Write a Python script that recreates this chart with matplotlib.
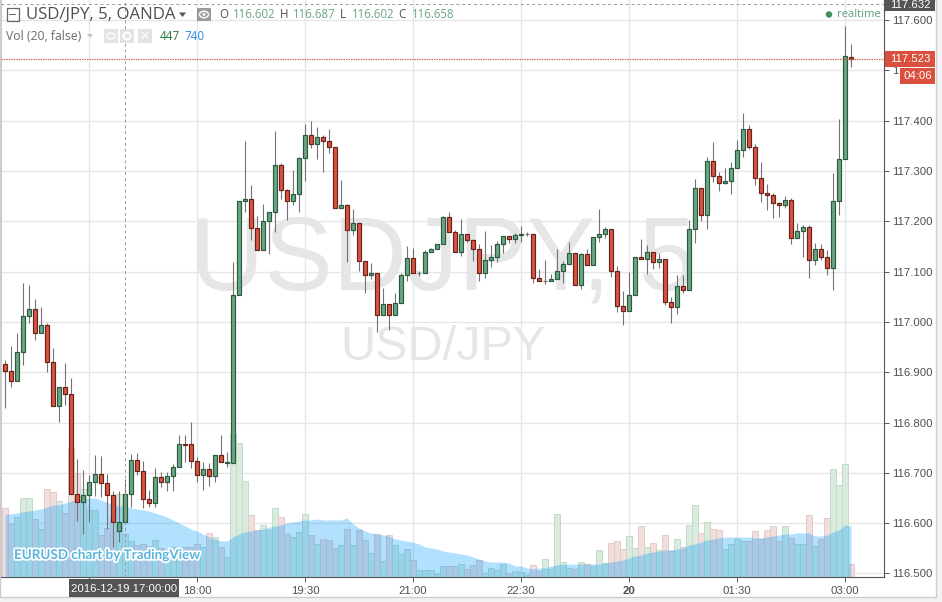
import matplotlib
matplotlib.use('Agg')
import matplotlib.pyplot as plt
import matplotlib.patheffects as pe
from matplotlib.patches import Rectangle, Polygon, Ellipse
import numpy as np

opens = [116.916, 116.902, 116.883, 116.940, 117.012, 117.026, 116.978, 116.994, 116.920, 116.833,
         116.871, 116.857, 116.658, 116.642, 116.656, 116.682, 116.698, 116.680, 116.656, 116.584,
         116.602, 116.658, 116.726, 116.704, 116.648, 116.640, 116.692, 116.682, 116.694, 116.712,
         116.757, 116.757, 116.724, 116.696, 116.708, 116.694, 116.735, 116.720, 116.720, 117.054,
         117.240, 117.244, 117.187, 117.143, 117.201, 117.219, 117.312, 117.262, 117.240, 117.254,
         117.326, 117.372, 117.354, 117.368, 117.360, 117.348, 117.226, 117.232, 117.183, 117.197,
         117.121, 117.093, 117.097, 117.014, 117.036, 117.014, 117.038, 117.093, 117.127, 117.097,
         117.097, 117.139, 117.145, 117.155, 117.209, 117.179, 117.139, 117.175, 117.163, 117.145,
         117.097, 117.123, 117.129, 117.155, 117.171, 117.165, 117.173, 117.175, 117.175, 117.087,
         117.081, 117.081, 117.085, 117.101, 117.115, 117.137, 117.073, 117.135, 117.113, 117.169,
         117.175, 117.185, 117.101, 117.032, 117.022, 117.054, 117.129, 117.125, 117.139, 117.119,
         117.125, 117.040, 117.030, 117.071, 117.063, 117.185, 117.266, 117.213, 117.320, 117.290,
         117.276, 117.280, 117.306, 117.342, 117.384, 117.348, 117.286, 117.256, 117.252, 117.236,
         117.232, 117.242, 117.167, 117.181, 117.189, 117.123, 117.145, 117.129, 117.107, 117.240,
         117.324, 117.527]
highs = [116.924, 116.952, 116.978, 117.077, 117.073, 117.046, 117.030, 116.998, 116.948, 116.871,
         116.918, 116.889, 116.727, 116.706, 116.696, 116.735, 116.733, 116.698, 116.664, 116.664,
         116.687, 116.737, 116.739, 116.724, 116.666, 116.710, 116.702, 116.702, 116.718, 116.775,
         116.775, 116.801, 116.731, 116.722, 116.720, 116.735, 116.775, 116.741, 117.119, 117.240,
         117.360, 117.272, 117.211, 117.234, 117.219, 117.380, 117.316, 117.264, 117.302, 117.328,
         117.393, 117.399, 117.388, 117.372, 117.384, 117.348, 117.282, 117.234, 117.224, 117.197,
         117.121, 117.117, 117.097, 117.067, 117.036, 117.058, 117.097, 117.151, 117.147, 117.101,
         117.143, 117.147, 117.155, 117.211, 117.219, 117.183, 117.205, 117.175, 117.165, 117.155,
         117.181, 117.153, 117.161, 117.171, 117.171, 117.177, 117.191, 117.179, 117.175, 117.105,
         117.123, 117.095, 117.145, 117.121, 117.159, 117.137, 117.137, 117.145, 117.169, 117.224,
         117.189, 117.185, 117.111, 117.061, 117.099, 117.129, 117.165, 117.153, 117.139, 117.137,
         117.125, 117.050, 117.093, 117.093, 117.203, 117.284, 117.266, 117.328, 117.358, 117.298,
         117.306, 117.318, 117.362, 117.415, 117.391, 117.354, 117.318, 117.274, 117.256, 117.238,
         117.250, 117.246, 117.197, 117.193, 117.193, 117.157, 117.155, 117.143, 117.296, 117.403,
         117.588, 117.553]
lows = [116.829, 116.871, 116.883, 116.914, 116.998, 116.964, 116.978, 116.900, 116.833, 116.801,
        116.835, 116.658, 116.604, 116.578, 116.602, 116.654, 116.652, 116.588, 116.553, 116.562,
        116.602, 116.632, 116.696, 116.630, 116.632, 116.632, 116.672, 116.664, 116.664, 116.712,
        116.722, 116.710, 116.682, 116.666, 116.674, 116.682, 116.722, 116.712, 116.720, 117.054,
        117.219, 117.163, 117.143, 117.143, 117.135, 117.179, 117.244, 117.203, 117.232, 117.219,
        117.280, 117.346, 117.324, 117.298, 117.336, 117.226, 117.226, 117.119, 117.173, 117.101,
        117.058, 117.085, 116.980, 117.014, 116.984, 117.014, 117.038, 117.081, 117.097, 117.091,
        117.097, 117.139, 117.145, 117.155, 117.179, 117.139, 117.131, 117.159, 117.121, 117.081,
        117.087, 117.109, 117.119, 117.137, 117.157, 117.157, 117.159, 117.171, 117.077, 117.081,
        117.075, 117.081, 117.085, 117.077, 117.115, 117.073, 117.065, 117.113, 117.113, 117.159,
        117.167, 117.089, 117.020, 116.994, 117.022, 117.054, 117.125, 117.095, 117.105, 117.107,
        117.034, 116.998, 117.016, 117.058, 117.063, 117.157, 117.201, 117.185, 117.278, 117.260,
        117.274, 117.254, 117.306, 117.328, 117.344, 117.272, 117.238, 117.223, 117.207, 117.209,
        117.226, 117.155, 117.167, 117.129, 117.087, 117.113, 117.123, 117.093, 117.063, 117.213,
        117.324, 117.507]
closes = [116.902, 116.883, 116.940, 117.012, 117.026, 116.978, 116.994, 116.920, 116.833, 116.871,
          116.857, 116.658, 116.642, 116.656, 116.682, 116.698, 116.680, 116.656, 116.602, 116.602,
          116.658, 116.726, 116.704, 116.648, 116.640, 116.692, 116.682, 116.694, 116.712, 116.757,
          116.755, 116.724, 116.696, 116.708, 116.694, 116.735, 116.722, 116.722, 117.054, 117.240,
          117.244, 117.187, 117.143, 117.201, 117.219, 117.312, 117.262, 117.240, 117.254, 117.326,
          117.372, 117.354, 117.368, 117.360, 117.348, 117.226, 117.232, 117.183, 117.197, 117.121,
          117.093, 117.097, 117.014, 117.036, 117.014, 117.038, 117.093, 117.127, 117.097, 117.097,
          117.139, 117.145, 117.155, 117.209, 117.179, 117.139, 117.175, 117.163, 117.145, 117.097,
          117.123, 117.129, 117.155, 117.171, 117.165, 117.173, 117.175, 117.175, 117.087, 117.081,
          117.081, 117.085, 117.101, 117.115, 117.137, 117.073, 117.135, 117.113, 117.169, 117.175,
          117.185, 117.101, 117.032, 117.022, 117.054, 117.129, 117.125, 117.139, 117.119, 117.125,
          117.040, 117.030, 117.071, 117.063, 117.185, 117.266, 117.213, 117.320, 117.290, 117.276,
          117.280, 117.306, 117.342, 117.384, 117.348, 117.286, 117.256, 117.252, 117.236, 117.232,
          117.242, 117.167, 117.181, 117.189, 117.123, 117.145, 117.129, 117.107, 117.240, 117.324,
          117.529, 117.523]
volumes = [718, 551, 624, 822, 822, 603, 499, 915, 884, 790,
           666, 1342, 1082, 915, 697, 697, 437, 510, 624, 863,
           447, 374, 333, 343, 322, 385, 302, 281, 312, 312,
           312, 312, 343, 312, 458, 416, 312, 208, 1487, 1394,
           998, 645, 489, 541, 489, 718, 624, 447, 416, 468,
           655, 437, 343, 395, 385, 302, 333, 499, 333, 489,
           385, 250, 447, 166, 437, 333, 239, 291, 177, 73,
           73, 73, 31, 114, 114, 114, 135, 83, 125, 177,
           42, 94, 73, 135, 31, 62, 52, 21, 125, 62,
           187, 83, 655, 156, 94, 83, 156, 135, 114, 281,
           146, 354, 374, 291, 426, 302, 530, 312, 354, 281,
           437, 270, 395, 312, 541, 749, 458, 572, 499, 489,
           291, 343, 395, 374, 374, 478, 395, 489, 530, 374,
           530, 406, 343, 343, 645, 322, 395, 614, 1123, 957,
           1175, 135]
vol_ma = [655, 655, 666, 676, 686, 697, 707, 728, 749, 749,
          770, 790, 811, 811, 822, 822, 801, 780, 749, 738,
          740, 718, 707, 697, 686, 666, 645, 624, 593, 562,
          530, 499, 478, 447, 416, 395, 374, 374, 416, 447,
          468, 478, 489, 499, 520, 530, 541, 562, 572, 582,
          593, 593, 603, 593, 593, 593, 593, 614, 551, 510,
          478, 458, 447, 437, 426, 395, 385, 374, 364, 343,
          312, 302, 291, 270, 260, 250, 239, 229, 208, 187,
          166, 156, 156, 156, 146, 114, 114, 94, 83, 94,
          94, 114, 125, 135, 135, 135, 135, 135, 135, 135,
          146, 156, 166, 177, 198, 218, 229, 250, 260, 270,
          281, 281, 291, 302, 333, 343, 364, 385, 395, 406,
          416, 416, 416, 416, 416, 406, 406, 416, 426, 437,
          447, 447, 458, 458, 458, 426, 426, 437, 468, 489,
          541, 530]

price_ticks = [116.5, 116.6, 116.7, 116.8, 116.9, 117.0, 117.1, 117.2, 117.3, 117.4, 117.5, 117.6]
price_labels = ['116.500', '116.600', '116.700', '116.800', '116.900', '117.000', '117.100', '117.200',
                '117.300', '117.400', '1', '117.600']  # only the first digit of 117.500 shows beside the tags
time_ticks = [14, 32, 50, 68, 86, 104, 122, 140]
time_labels = ['', '18:00', '19:30', '21:00', '22:30', '20', '01:30', '03:00']
last_price = 117.523
cursor_price = 117.632
cursor_bar = 20

W, H = 942, 602
TEXT = '#4f4f4f'
UP, UP_EDGE = '#6ba583', '#2a5a40'
DOWN, DOWN_EDGE = '#d75442', '#6b2018'
WICK = '#737375'
TAG = '#d9503f'
DARK = '#555555'
sans = ['Liberation Sans', 'DejaVu Sans']


def fx(x):
    return x / W


def fy(y):
    return 1 - y / H


def box(x0, y0, x1, y1, **kw):
    r = Rectangle((fx(x0), fy(y1)), (x1 - x0) / W, (y1 - y0) / H, transform=fig.transFigure, **kw)
    fig.add_artist(r)
    return r


def oval(x, y, w, h, **kw):
    fig.add_artist(Ellipse((fx(x), fy(y)), w / W, h / H, transform=fig.transFigure, zorder=4, **kw))


def tri(x0, x1, y0, y1, color):
    fig.add_artist(Polygon([(fx(x0), fy(y0)), (fx(x1), fy(y0)), (fx((x0 + x1) / 2), fy(y1))],
                           closed=True, transform=fig.transFigure, color=color, lw=0))


def label(x, y, s, **kw):
    kw.setdefault('va', 'center')
    kw.setdefault('family', sans)
    return fig.text(fx(x), fy(y), s, **kw)


fig = plt.figure(figsize=(W / 100, H / 100), dpi=100, facecolor='#f3f3f3')
box(0, 0, 936, 597, facecolor='white', edgecolor='#cccccc', lw=1, zorder=-1)

ax = fig.add_axes([fx(1), fy(577), 883 / W, 577 / H])
ax.set_facecolor('white')
ax.set_xlim(-0.667, 146.5)
ax.set_ylim(116.493, 117.640)
vol_scale = (117.640 - 116.493) / 6000

ax.spines['top'].set_visible(False)
ax.spines['left'].set_color('#cccccc')
ax.spines['right'].set_color(DARK)
ax.spines['bottom'].set_color(DARK)
ax.yaxis.tick_right()
ax.set_yticks(price_ticks, price_labels, family=sans, fontsize=8.2, color=TEXT)
ax.set_xticks(time_ticks, time_labels, family=sans, fontsize=8.2, color=TEXT)
ax.tick_params(axis='both', length=3.5, width=0.7, color=DARK, pad=2)
ax.tick_params(axis='x', pad=3)
ax.get_xticklabels()[time_labels.index('20')].set_fontweight('bold')
ax.set_axisbelow(True)
ax.grid(True, color='#e6e6e6', lw=1)

# watermark
ax.text(fx(190), fy(290), 'USDJPY, 5', transform=fig.transFigure, family=sans, fontsize=74,
        color='#e6e6e6', ha='left', va='baseline', zorder=0.6)
ax.text(fx(443), fy(360), 'USD/JPY', transform=fig.transFigure, family=sans, fontsize=35,
        color='#e6e6e6', ha='center', va='baseline', zorder=0.6)

# volume and its moving average
bars = np.arange(len(closes))
o, h, l, c = map(np.array, (opens, highs, lows, closes))
v = np.array(volumes)
is_up = c >= o
vol_face = np.where(is_up, '#d9ebdc', '#f0dfdc')
vol_edge = np.where(is_up, '#c2dcc9', '#e4cac6')
ax.bar(bars, v * vol_scale, bottom=116.493, width=1.0, color=vol_face, edgecolor=vol_edge, lw=0.7, zorder=1)
ax.fill_between(bars, 116.493, 116.493 + np.array(vol_ma) * vol_scale, color='#0099ff', alpha=0.3, lw=0, zorder=1.5)

# candles
doji = o == c
body_edge = np.where(doji, WICK, np.where(c > o, UP_EDGE, DOWN_EDGE))
body_face = np.where(c > o, UP, DOWN)
ax.vlines(bars, l, h, color=WICK, lw=0.8, zorder=2)
ax.bar(bars, np.abs(c - o), bottom=np.minimum(o, c), width=0.66, color=body_face, edgecolor=body_edge, lw=0.85, zorder=3)

# cursor and last price
ax.axvline(cursor_bar, color='#999999', lw=0.7, ls=(0, (3, 3)), zorder=4)
ax.axhline(cursor_price, color='#999999', lw=0.7, ls=(0, (3, 3)), zorder=4)
ax.axhline(last_price, color='#d9503f', lw=0.8, ls=(0, (1.2, 1)), zorder=4)

# price and time tags
box(885, 0, 935, 11, facecolor=DARK, lw=0, zorder=3)
label(910, 5, '117.632', color='white', fontsize=8.2, ha='center', zorder=4)
box(885, 51, 935, 67, facecolor=TAG, lw=0, zorder=3)
label(910, 59.5, '117.523', color='white', fontsize=8.2, ha='center', zorder=4)
box(900, 68, 935, 84, facecolor=TAG, lw=0, zorder=3)
label(917.5, 76, '04:06', color='white', fontsize=8.2, ha='center', zorder=4)
box(69, 579, 179, 597, facecolor=DARK, lw=0, zorder=3)
label(124, 589, '2016-12-19 17:00:00', color='white', fontsize=8.2, ha='center', zorder=4)

# header
head = ['Open Sans', 'DejaVu Sans']
box(6.5, 8.5, 18.5, 20.5, facecolor='none', edgecolor='#666666', lw=0.9, zorder=3)
box(9, 14, 16, 15, facecolor='#666666', lw=0, zorder=3)
label(26, 14.5, 'USD/JPY, 5, OANDA', family=head, fontsize=12.1, color=TEXT, fontweight='medium', ha='left')
tri(179, 186, 12.5, 17, '#555555')
box(197, 8, 211, 21, facecolor='#9b9b9b', lw=0, zorder=3)
oval(204, 14.5, 9, 6.5, facecolor='none', edgecolor='white', lw=1)
oval(204, 14.5, 3, 3, facecolor='white', lw=0)
ohlc_x = [(219, 'O', 233, '116.602'), (280, 'H', 293, '116.687'), (340, 'L', 352, '116.602'), (398, 'C', 412, '116.658')]
for lx, name, vx, val in ohlc_x:
    label(lx, 15, name, family=head, fontsize=8.3, color=TEXT, ha='left')
    label(vx, 15, val, family=head, fontsize=8.3, color='#6ba583', ha='left')
label(6, 36, 'Vol (20, false)', family=head, fontsize=8.8, color='#6a6a6a', ha='left')
tri(87, 93, 34, 38, '#c4c4c4')
for bx in [104, 120, 138]:
    box(bx, 29, bx + 14, 43, facecolor='#e3e3e3', lw=0, zorder=3)
oval(111, 36, 8, 6, facecolor='none', edgecolor='white', lw=1)
oval(127, 36, 7, 7, facecolor='none', edgecolor='white', lw=1.4)
label(145, 36, '\u00d7', color='white', fontsize=12, ha='center', zorder=4)
label(160, 36.5, '447', family=head, fontsize=8.4, color='#2b7a3f', ha='left')
label(184, 36.5, '740', family=head, fontsize=8.4, color='#2a8ae0', ha='left')

oval(829, 14.5, 6.5, 6.5, facecolor='#3f9160', lw=0)
label(837, 14.5, 'realtime', family=head, fontsize=8.1, color='#5f9e7c', ha='left')

# branding
label(14, 555, 'EURUSD chart by TradingView', family=['Lato', 'DejaVu Sans'], fontsize=9.7, fontweight='bold', color='#59b4dc',
      ha='left', path_effects=[pe.withStroke(linewidth=2.5, foreground='white')])

fig.savefig('out.png', dpi=100, facecolor=fig.get_facecolor())
